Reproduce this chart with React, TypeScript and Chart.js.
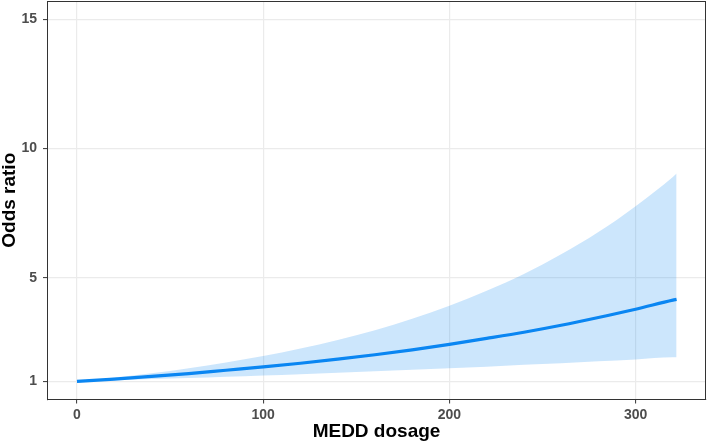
import React, { useEffect, useRef } from "react";
import { Chart, registerables } from "chart.js";

Chart.register(...registerables);

const DOSE = [0, 20, 40, 60, 80, 100, 120, 140, 160, 180, 200, 220, 240, 260, 280, 300, 320, 322];
const ODDS = [1.0, 1.09, 1.19, 1.3, 1.43, 1.56, 1.7, 1.86, 2.03, 2.22, 2.43, 2.66, 2.9, 3.17, 3.47, 3.79, 4.14, 4.17];
const UPPER = [1.0, 1.15, 1.31, 1.51, 1.73, 1.98, 2.27, 2.6, 2.98, 3.42, 3.92, 4.5, 5.15, 5.91, 6.77, 7.77, 8.9, 9.03];
const LOWER = [1.0, 1.04, 1.09, 1.13, 1.18, 1.23, 1.28, 1.33, 1.39, 1.45, 1.51, 1.57, 1.64, 1.7, 1.78, 1.85, 1.93, 1.93];
const X_TICKS = [0, 100, 200, 300];
const Y_TICKS = [1, 5, 10, 15];

const FONT = "'Liberation Sans', Arial, sans-serif";

const borderPlugin = {
  id: "panelBorder",
  afterDraw(chart: any) {
    const { ctx, chartArea } = chart;
    ctx.save();
    ctx.strokeStyle = "#333333";
    ctx.lineWidth = 1;
    ctx.strokeRect(
      Math.round(chartArea.left) + 0.5,
      Math.round(chartArea.top) + 0.5,
      Math.round(chartArea.right - chartArea.left) - 1,
      Math.round(chartArea.bottom - chartArea.top) - 1
    );
    ctx.restore();
  },
};

export default function App() {
  const ref = useRef<HTMLCanvasElement | null>(null);
  useEffect(() => {
    if (!ref.current) return;
    const pts = (arr: number[]) => DOSE.map((x, i) => ({ x, y: arr[i] }));
    const chart = new Chart(ref.current, {
      type: "line",
      data: {
        datasets: [
          {
            label: "Odds ratio",
            data: pts(ODDS),
            borderColor: "#0A86F2",
            borderWidth: 3.2,
            pointRadius: 0,
            fill: false,
            cubicInterpolationMode: "monotone",
            order: 0,
          },
          {
            label: "Upper",
            data: pts(UPPER),
            borderWidth: 0,
            borderColor: "rgba(0,0,0,0)",
            pointRadius: 0,
            backgroundColor: "rgba(0,130,240,0.2)",
            fill: { target: 2 },
            cubicInterpolationMode: "monotone",
            order: 1,
          },
          {
            label: "Lower",
            data: pts(LOWER),
            borderWidth: 0,
            borderColor: "rgba(0,0,0,0)",
            pointRadius: 0,
            fill: false,
            cubicInterpolationMode: "monotone",
            order: 2,
          },
        ],
      },
      options: {
        responsive: false,
        animation: false,
        layout: { padding: { top: 1, right: 2, left: 0, bottom: 0 } },
        plugins: { legend: { display: false }, tooltip: { enabled: false } },
        scales: {
          x: {
            type: "linear",
            min: -16.1,
            max: 337.8,
            afterBuildTicks: (s: any) => {
              s.ticks = X_TICKS.map((v) => ({ value: v }));
            },
            afterFit: (s: any) => {
              s.height = 45.5;
              s.paddingLeft = 0;
              s.paddingRight = 0;
            },
            grid: {
              color: "#EBEBEB",
              lineWidth: 1.2,
              tickColor: "#333333",
              tickLength: 4,
              tickWidth: 1,
            },
            border: { display: true, color: "#333333", width: 1 },
            ticks: {
              color: "#4D4D4D",
              font: { family: FONT, size: 14, weight: "bold", lineHeight: 1.2 },
              padding: 3,
              maxRotation: 0,
              callback: (v: any) => String(v),
            },
            title: {
              display: true,
              text: "MEDD dosage",
              color: "#000000",
              font: { family: FONT, size: 19, weight: "bold", lineHeight: 1 },
              padding: { top: 0, bottom: 3.5 },
            },
          },
          y: {
            type: "linear",
            min: 0.3,
            max: 15.7,
            afterBuildTicks: (s: any) => {
              s.ticks = Y_TICKS.map((v) => ({ value: v }));
            },
            afterFit: (s: any) => {
              s.width = 47;
              s.paddingTop = 0;
              s.paddingBottom = 0;
            },
            grid: {
              color: "#EBEBEB",
              lineWidth: 1.2,
              tickColor: "#333333",
              tickLength: 4,
              tickWidth: 1,
            },
            border: { display: true, color: "#333333", width: 1 },
            ticks: {
              color: "#4D4D4D",
              font: { family: FONT, size: 14, weight: "bold" },
              padding: 6,
              callback: (v: any) => String(v),
            },
            title: {
              display: true,
              text: "Odds ratio",
              color: "#000000",
              font: { family: FONT, size: 19, weight: "bold", lineHeight: 1 },
              padding: { top: 0, bottom: 0 },
            },
          },
        },
      },
      plugins: [borderPlugin],
    });
    return () => chart.destroy();
  }, []);
  return (
    <div style={{ position: "absolute", left: 0, top: 0, width: 708, height: 445, background: "#fff" }}>
      <canvas ref={ref} width={708} height={445} style={{ display: "block" }} />
    </div>
  );
}
